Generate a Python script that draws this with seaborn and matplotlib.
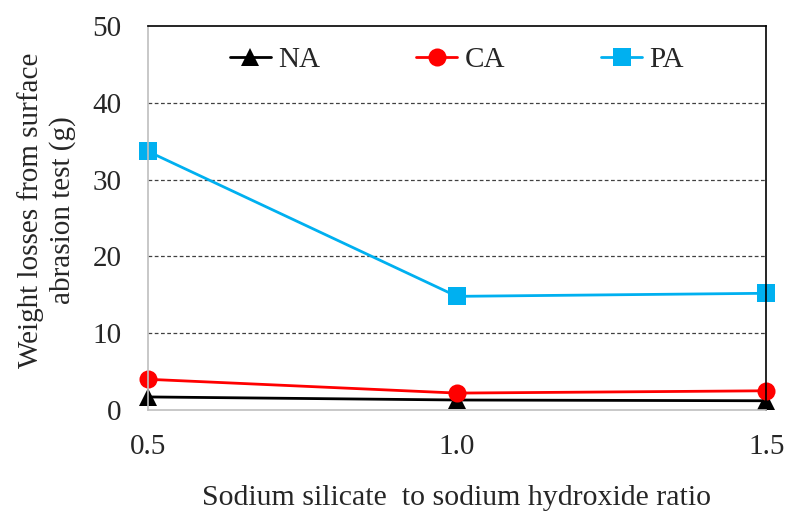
import matplotlib
matplotlib.use("Agg")
import matplotlib.pyplot as plt
import seaborn as sns
import pandas as pd

ratio = [0.5, 1.0, 1.5]
na = [1.7, 1.3, 1.2]
ca = [4.0, 2.2, 2.5]
pa = [33.7, 14.8, 15.2]
series_names = ["NA", "CA", "PA"]
colors = ["#000000", "#ff0000", "#00b0f0"]
markers = ["^", "o", "s"]

df = pd.DataFrame({
    "ratio": ratio * 3,
    "loss": na + ca + pa,
    "series": [s for s in series_names for _ in ratio],
})

sns.set_style("white")
plt.rcParams["font.family"] = ["Liberation Serif", "DejaVu Serif"]

fig = plt.figure(figsize=(7.94, 5.22), dpi=100)
ax = fig.add_axes([0.186, 0.2146, 0.779, 0.7354])

sns.lineplot(data=df, x="ratio", y="loss", hue="series", style="series",
             hue_order=series_names, style_order=series_names,
             palette=colors, markers=markers, dashes=False,
             markersize=13, linewidth=2, markeredgewidth=0, ax=ax)

ax.set_xlim(0.5, 1.5)
ax.set_ylim(0, 50)
ax.set_xticks([0.5, 1.0, 1.5])
ax.set_xticklabels(["0.5", "1.0", "1.5"])
ax.set_yticks([0, 10, 20, 30, 40, 50])
ax.tick_params(axis="both", length=0, labelsize=21)
ax.tick_params(axis="x", pad=17)
ax.tick_params(axis="y", pad=19)

for y in [10, 20, 30, 40]:
    ax.axhline(y, color="#404040", linestyle=(0, (3, 2)), linewidth=0.9, zorder=0)

for side in ["left", "bottom"]:
    ax.spines[side].set_color("#bfbfbf")
    ax.spines[side].set_linewidth(1.2)
for side in ["top", "right"]:
    ax.spines[side].set_color("#000000")
    ax.spines[side].set_linewidth(1.2)
for l in ax.lines:
    l.set_clip_on(False)

ax.set_xlabel("Sodium silicate  to sodium hydroxide ratio", fontsize=21.5, labelpad=18)
ax.set_ylabel("Weight losses from surface\nabrasion test (g)", fontsize=21,
              linespacing=1.22)
ax.yaxis.set_label_coords(-0.116, 0.52)

leg = ax.legend(loc="upper center", ncol=3, frameon=False, fontsize=21,
                bbox_to_anchor=(0.5, 1.015), columnspacing=3.3, handlelength=1.4,
                handletextpad=0.25)

fig.savefig("out.png", dpi=100)
